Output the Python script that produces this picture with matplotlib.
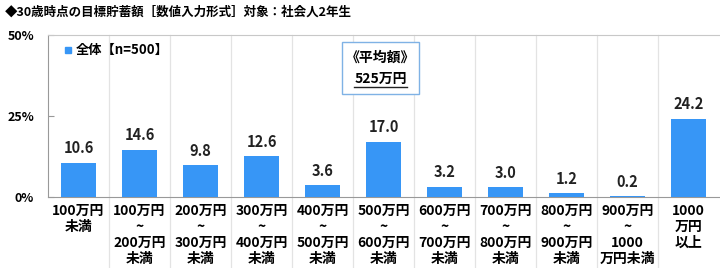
import matplotlib
matplotlib.use("Agg")
import matplotlib.pyplot as plt
from matplotlib.patches import Rectangle
from matplotlib.lines import Line2D

plt.rcParams['font.family'] = ['Noto Sans CJK JP', 'DejaVu Sans']

categories = ["100万円\n未満", "100万円\n~\n200万円\n未満", "200万円\n~\n300万円\n未満",
              "300万円\n~\n400万円\n未満", "400万円\n~\n500万円\n未満", "500万円\n~\n600万円\n未満",
              "600万円\n~\n700万円\n未満", "700万円\n~\n800万円\n未満", "800万円\n~\n900万円\n未満",
              "900万円\n~\n1000\n万円未満", "1000\n万円\n以上"]
values = [10.6, 14.6, 9.8, 12.6, 3.6, 17.0, 3.2, 3.0, 1.2, 0.2, 24.2]
yticks = [0, 25, 50]
ytick_labels = ["0%", "25%", "50%"]
legend_label = "全体【n=500】"
title = "◆30歳時点の目標貯蓄額［数値入力形式］対象：社会人2年生"
avg_title = "《平均額》"
avg_value = "525万円"

bar_color = "#3796F6"

fig = plt.figure(figsize=(7.2, 2.68), dpi=100)
ax = fig.add_axes([48/720, 1-197/268, (719-48)/720, (197-35)/268])

n = len(values)
x = list(range(n))
ax.bar(x, values, width=0.56, color=bar_color, zorder=3)
for xi, v in zip(x, values):
    ax.text(xi, v + 2.0, f"{v:.1f}", ha="center", va="bottom", fontsize=10.5,
            fontweight="bold", color="#222222")

ax.set_xlim(-0.5, n - 0.5)
ax.set_ylim(0, 50)
ax.set_yticks(yticks)
ax.set_yticklabels(ytick_labels, fontsize=9, fontweight="bold")
ax.tick_params(axis="y", direction="in", length=4, color="#999999", pad=10)
ax.set_xticks(x)
ax.set_xticklabels(categories, fontsize=10, fontweight="bold", linespacing=1.18)
ax.tick_params(axis="x", length=0, pad=5)

ax.spines["right"].set_visible(False)
ax.spines["top"].set_color("#c8c8c8")
ax.spines["left"].set_color("#999999")
ax.spines["bottom"].set_color("#999999")

# category separators, extending into the label area
for k in range(1, n):
    ax.plot([k - 0.5, k - 0.5], [-0.44, 1.0], transform=ax.get_xaxis_transform(),
            color="#e3e3e3", lw=0.9, clip_on=False, zorder=1)

# legend
ax.plot([0.03], [0.905], marker="s", markersize=5, color=bar_color,
        transform=ax.transAxes, clip_on=False)
ax.text(0.042, 0.905, legend_label, transform=ax.transAxes, fontsize=9.5,
        fontweight="bold", va="center", ha="left")

# title
fig.text(5/720, 1-12/268, title, fontsize=9, fontweight="bold", va="center", ha="left")

# average box
bx0, bx1 = 342, 419
by0, by1 = 42, 94
rect = Rectangle((bx0/720, 1-by1/268), (bx1-bx0)/720, (by1-by0)/268,
                 transform=fig.transFigure, facecolor="white", edgecolor="#7fb2e5",
                 lw=1.0, zorder=5)
fig.patches.append(rect)
cx = (bx0 + bx1) / 2 / 720
fig.text(cx, 1-58/268, avg_title, fontsize=10, fontweight="bold", ha="center", va="center", zorder=6)
t2 = fig.text(cx, 1-79/268, avg_value, fontsize=10, fontweight="bold", ha="center", va="center", zorder=6)

fig.canvas.draw()
bb = t2.get_window_extent()
fig.lines.append(Line2D([bb.x0/720, bb.x1/720], [(bb.y0 - 1)/268, (bb.y0 - 1)/268],
                        transform=fig.transFigure, color="#222222", lw=1.0, zorder=7))

fig.savefig("out.png", dpi=100)
